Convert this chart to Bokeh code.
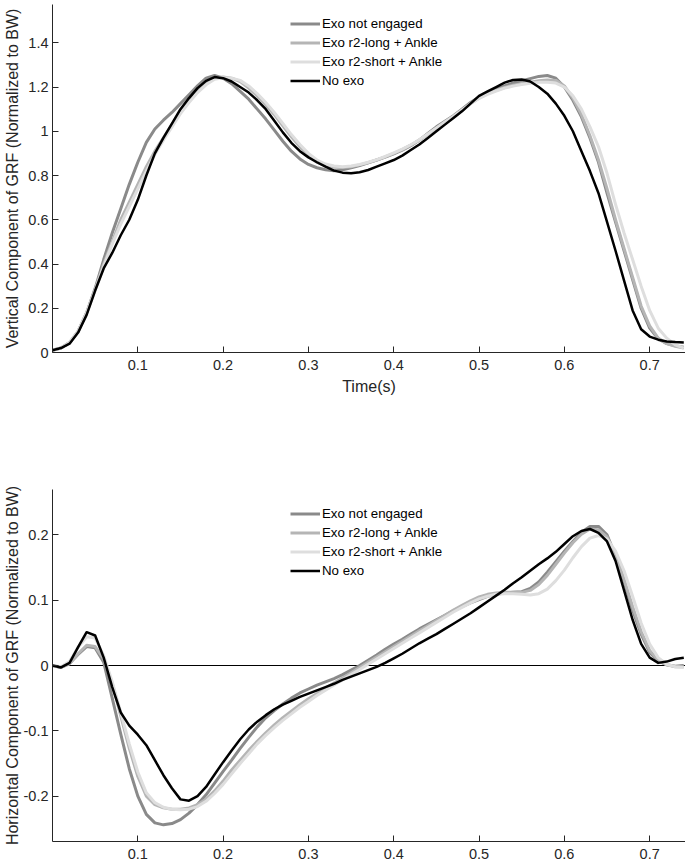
from bokeh.plotting import figure
from bokeh.models import (FixedTicker, CustomJSTickFormatter, Legend, LegendItem,
                          Span, Range1d)
from bokeh.layouts import column
from bokeh.embed import file_html
from bokeh.resources import INLINE

# ---------------- data ----------------
time_s = [0.00, 0.01, 0.02, 0.03, 0.04, 0.05, 0.06, 0.07, 0.08, 0.09,
          0.10, 0.11, 0.12, 0.13, 0.14, 0.15, 0.16, 0.17, 0.18, 0.19,
          0.20, 0.21, 0.22, 0.23, 0.24, 0.25, 0.26, 0.27, 0.28, 0.29,
          0.30, 0.31, 0.32, 0.33, 0.34, 0.35, 0.36, 0.37, 0.38, 0.39,
          0.40, 0.41, 0.42, 0.43, 0.44, 0.45, 0.46, 0.47, 0.48, 0.49,
          0.50, 0.51, 0.52, 0.53, 0.54, 0.55, 0.56, 0.57, 0.58, 0.59,
          0.60, 0.61, 0.62, 0.63, 0.64, 0.65, 0.66, 0.67, 0.68, 0.69,
          0.70, 0.71, 0.72, 0.73, 0.74]

series_names = ["Exo not engaged", "Exo r2-long + Ankle", "Exo r2-short + Ankle", "No exo"]

# Vertical component (normalized to BW)
vert_not_engaged = [0.010, 0.020, 0.045, 0.095, 0.180, 0.290, 0.420, 0.540, 0.650, 0.760,
                    0.860, 0.950, 1.010, 1.050, 1.085, 1.125, 1.165, 1.205, 1.240, 1.252,
                    1.240, 1.215, 1.180, 1.145, 1.100, 1.055, 1.005, 0.955, 0.910, 0.875,
                    0.850, 0.835, 0.826, 0.822, 0.826, 0.835, 0.845, 0.857, 0.870, 0.883,
                    0.898, 0.915, 0.935, 0.960, 0.990, 1.020, 1.045, 1.070, 1.100, 1.130,
                    1.155, 1.175, 1.190, 1.205, 1.218, 1.228, 1.238, 1.248, 1.252, 1.240,
                    1.200, 1.140, 1.065, 0.970, 0.860, 0.720, 0.590, 0.460, 0.330, 0.200,
                    0.110, 0.062, 0.040, 0.030, 0.024]
vert_r2_long = [0.010, 0.020, 0.045, 0.095, 0.180, 0.285, 0.400, 0.500, 0.600, 0.680,
                0.760, 0.840, 0.910, 0.970, 1.030, 1.090, 1.140, 1.185, 1.220, 1.242,
                1.245, 1.240, 1.225, 1.195, 1.160, 1.120, 1.075, 1.025, 0.975, 0.930,
                0.890, 0.860, 0.845, 0.837, 0.836, 0.840, 0.848, 0.858, 0.870, 0.884,
                0.900, 0.917, 0.937, 0.960, 0.986, 1.013, 1.040, 1.065, 1.095, 1.125,
                1.150, 1.170, 1.185, 1.198, 1.208, 1.215, 1.222, 1.228, 1.232, 1.230,
                1.205, 1.150, 1.075, 0.980, 0.870, 0.740, 0.600, 0.470, 0.340, 0.210,
                0.120, 0.065, 0.040, 0.028, 0.020]
vert_r2_short = [0.010, 0.020, 0.045, 0.095, 0.178, 0.280, 0.390, 0.490, 0.580, 0.660,
                 0.740, 0.820, 0.895, 0.960, 1.020, 1.080, 1.130, 1.175, 1.210, 1.235,
                 1.242, 1.240, 1.230, 1.205, 1.170, 1.130, 1.085, 1.035, 0.985, 0.940,
                 0.900, 0.870, 0.852, 0.843, 0.840, 0.843, 0.850, 0.860, 0.872, 0.886,
                 0.902, 0.919, 0.939, 0.962, 0.988, 1.015, 1.042, 1.068, 1.096, 1.124,
                 1.148, 1.167, 1.182, 1.195, 1.204, 1.211, 1.217, 1.221, 1.222, 1.218,
                 1.200, 1.160, 1.100, 1.020, 0.930, 0.810, 0.670, 0.540, 0.420, 0.300,
                 0.190, 0.110, 0.065, 0.035, 0.020]
vert_no_exo = [0.010, 0.020, 0.040, 0.090, 0.170, 0.280, 0.380, 0.450, 0.530, 0.600,
               0.690, 0.800, 0.900, 0.970, 1.035, 1.100, 1.150, 1.195, 1.228, 1.245,
               1.240, 1.225, 1.200, 1.175, 1.140, 1.100, 1.048, 0.995, 0.948, 0.910,
               0.882, 0.860, 0.840, 0.822, 0.813, 0.810, 0.815, 0.825, 0.840, 0.855,
               0.870, 0.890, 0.915, 0.940, 0.970, 1.000, 1.030, 1.060, 1.090, 1.125,
               1.160, 1.180, 1.200, 1.220, 1.232, 1.234, 1.225, 1.200, 1.170, 1.125,
               1.070, 1.000, 0.910, 0.820, 0.720, 0.590, 0.460, 0.325, 0.190, 0.105,
               0.072, 0.058, 0.050, 0.047, 0.045]

# Horizontal component (normalized to BW)
horiz_not_engaged = [0.000, -0.003, 0.003, 0.017, 0.029, 0.027, 0.005, -0.050, -0.105, -0.158,
                     -0.200, -0.228, -0.241, -0.244, -0.242, -0.236, -0.226, -0.213, -0.198, -0.180,
                     -0.162, -0.145, -0.127, -0.110, -0.094, -0.080, -0.069, -0.059, -0.050, -0.042,
                     -0.036, -0.030, -0.025, -0.020, -0.014, -0.007, 0.000, 0.008, 0.016, 0.025,
                     0.033, 0.040, 0.048, 0.056, 0.063, 0.070, 0.077, 0.084, 0.090, 0.096,
                     0.101, 0.106, 0.109, 0.111, 0.112, 0.113, 0.118, 0.128, 0.143, 0.159,
                     0.175, 0.190, 0.204, 0.213, 0.213, 0.200, 0.168, 0.128, 0.085, 0.048,
                     0.020, 0.007, 0.001, -0.001, 0.000]
horiz_r2_long = [0.000, -0.003, 0.003, 0.018, 0.031, 0.029, 0.010, -0.027, -0.077, -0.127,
                 -0.170, -0.200, -0.213, -0.218, -0.220, -0.220, -0.218, -0.213, -0.205, -0.192,
                 -0.177, -0.160, -0.145, -0.130, -0.116, -0.103, -0.091, -0.080, -0.070, -0.060,
                 -0.051, -0.043, -0.035, -0.027, -0.019, -0.011, -0.003, 0.005, 0.013, 0.021,
                 0.029, 0.037, 0.045, 0.053, 0.061, 0.069, 0.077, 0.085, 0.092, 0.099,
                 0.105, 0.109, 0.111, 0.112, 0.112, 0.112, 0.115, 0.124, 0.138, 0.155,
                 0.172, 0.188, 0.201, 0.209, 0.208, 0.197, 0.170, 0.132, 0.090, 0.052,
                 0.023, 0.008, 0.001, -0.002, -0.002]
horiz_r2_short = [0.000, -0.002, 0.006, 0.028, 0.044, 0.042, 0.015, -0.025, -0.072, -0.120,
                  -0.163, -0.195, -0.210, -0.217, -0.220, -0.221, -0.220, -0.216, -0.208, -0.196,
                  -0.182, -0.166, -0.150, -0.135, -0.120, -0.107, -0.095, -0.084, -0.074, -0.064,
                  -0.055, -0.046, -0.038, -0.030, -0.022, -0.014, -0.006, 0.002, 0.010, 0.018,
                  0.026, 0.034, 0.042, 0.050, 0.058, 0.066, 0.074, 0.082, 0.089, 0.096,
                  0.102, 0.106, 0.109, 0.110, 0.110, 0.109, 0.108, 0.110, 0.117, 0.130,
                  0.146, 0.165, 0.182, 0.195, 0.199, 0.194, 0.175, 0.145, 0.106, 0.065,
                  0.033, 0.012, 0.002, -0.002, -0.003]
horiz_no_exo = [0.000, -0.003, 0.004, 0.028, 0.051, 0.046, 0.012, -0.033, -0.072, -0.092,
                -0.106, -0.122, -0.145, -0.168, -0.188, -0.205, -0.207, -0.200, -0.186, -0.167,
                -0.148, -0.130, -0.113, -0.098, -0.086, -0.076, -0.067, -0.060, -0.054, -0.048,
                -0.043, -0.038, -0.033, -0.028, -0.022, -0.017, -0.012, -0.007, -0.002, 0.004,
                0.011, 0.018, 0.026, 0.034, 0.041, 0.048, 0.056, 0.064, 0.072, 0.080,
                0.089, 0.098, 0.107, 0.116, 0.126, 0.135, 0.145, 0.155, 0.164, 0.174,
                0.186, 0.198, 0.206, 0.209, 0.203, 0.190, 0.160, 0.115, 0.070, 0.033,
                0.012, 0.004, 0.006, 0.010, 0.012]

x_ticks = [0.1, 0.2, 0.3, 0.4, 0.5, 0.6, 0.7]
vert_ticks = [0, 0.2, 0.4, 0.6, 0.8, 1, 1.2, 1.4]
horiz_ticks = [-0.2, -0.1, 0, 0.1, 0.2]

# ---------------- style ----------------
FONT = "Liberation Sans"
AX = "#262626"
colors = ["#8a8a8a", "#b5b5b5", "#dedede", "#000000"]
widths = [3, 3, 3, 2.5]
fmt = CustomJSTickFormatter(code="return tick.toString();")


def style(p, yticks, xlabel, ylabel, ylab_standoff):
    p.outline_line_color = None
    p.background_fill_color = "white"
    p.border_fill_color = "white"
    for ax in (p.xaxis[0], p.yaxis[0]):
        ax.axis_line_color = AX
        ax.axis_line_width = 1
        ax.major_tick_line_color = AX
        ax.major_tick_in = 6
        ax.major_tick_out = 0
        ax.minor_tick_line_color = None
        ax.major_label_text_font = FONT
        ax.major_label_text_font_size = "14.5px"
        ax.major_label_text_color = AX
        ax.axis_label_text_font = FONT
        ax.axis_label_text_font_size = "16px"
        ax.axis_label_text_font_style = "normal"
        ax.axis_label_text_color = AX
        ax.formatter = fmt
    p.xaxis[0].ticker = FixedTicker(ticks=x_ticks)
    p.yaxis[0].ticker = FixedTicker(ticks=yticks)
    p.xaxis[0].major_label_standoff = 7
    p.yaxis[0].major_label_standoff = 4
    p.yaxis[0].axis_label_standoff = ylab_standoff
    p.xaxis[0].axis_label_standoff = 5
    if xlabel:
        p.xaxis[0].axis_label = xlabel
    p.yaxis[0].axis_label = ylabel
    p.xgrid.grid_line_color = None
    p.ygrid.grid_line_color = None


def add_lines(p, ys, loc):
    items = []
    for name, y, c, w in zip(series_names, ys, colors, widths):
        r = p.line(time_s, y, line_color=c, line_width=w, line_join="round")
        items.append(LegendItem(label=name, renderers=[r]))
    leg = Legend(items=items, location=loc, border_line_alpha=0,
                 background_fill_alpha=0, padding=0, margin=0, spacing=0,
                 glyph_width=30, glyph_height=19, label_height=19,
                 label_standoff=2, label_text_font=FONT,
                 label_text_font_size="13.3px", label_text_color="#000000")
    p.add_layout(leg)


p1 = figure(width=685, height=478, output_backend="svg", toolbar_location=None,
            x_range=Range1d(0, 0.742), y_range=Range1d(0, 1.573),
            min_border_left=52, min_border_right=0, min_border_top=4,
            min_border_bottom=126)
style(p1, vert_ticks, "Time(s)", "Vertical Component of GRF (Normalized to BW)", 4)
add_lines(p1, [vert_not_engaged, vert_r2_long, vert_r2_short, vert_no_exo], (238, 262))

p2 = figure(width=685, height=386, output_backend="svg", toolbar_location=None,
            x_range=Range1d(0, 0.742), y_range=Range1d(-0.2695, 0.2695),
            min_border_left=52, min_border_right=0, min_border_top=11,
            min_border_bottom=23)
style(p2, horiz_ticks, None, "Horizontal Component of GRF (Normalized to BW)", 0)
p2.add_layout(Span(location=0, dimension="width", line_color="#000000",
                   line_width=1, level="underlay"))
add_lines(p2, [horiz_not_engaged, horiz_r2_long, horiz_r2_short, horiz_no_exo], (238, 261))

layout = column(p1, p2, spacing=0)
open("out.html", "w").write(file_html(layout, INLINE))
